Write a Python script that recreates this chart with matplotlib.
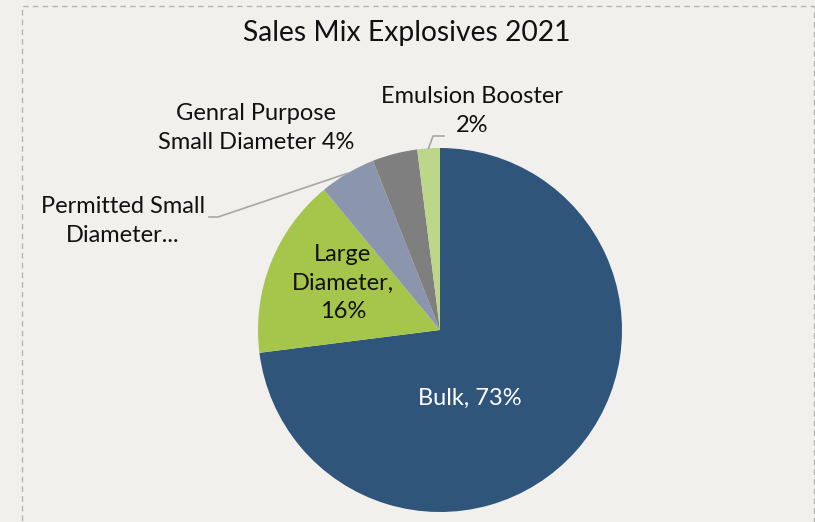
import numpy as np
import matplotlib
matplotlib.use("Agg")
import matplotlib.pyplot as plt
from matplotlib.patches import Rectangle

categories = ["Bulk", "Large Diameter", "Permitted Small Diameter",
              "Genral Purpose Small Diameter", "Emulsion Booster"]
values = [73, 16, 5, 4, 2]
colors = ["#2f557a", "#a5c64b", "#8b96ae", "#7f7f7f", "#bcd68a"]
title = "Sales Mix Explosives 2021"

W, H = 815, 522
fig = plt.figure(figsize=(W / 100, H / 100), dpi=100)
bg = "#f2f0ed"
fig.patch.set_facecolor(bg)
ax = fig.add_axes([0, 0, 1, 1])
ax.set_xlim(0, W)
ax.set_ylim(0, H)
ax.set_aspect("equal")
ax.axis("off")

def Y(y):
    return H - y

FONT = ["Lato", "DejaVu Sans"]

# dashed border
ax.add_patch(Rectangle((22, Y(540)), 792, 534, fill=False, ec="#b5b5b5",
                       lw=1.0, ls=(0, (4, 3)), zorder=0))

cx, cy, R = 440, 330, 182
wedges, _ = ax.pie(values, colors=colors, startangle=90, counterclock=False,
                   center=(cx, Y(cy)), radius=R,
                   wedgeprops=dict(linewidth=0))
ax.set_xlim(0, W)
ax.set_ylim(0, H)

ax.text(407, Y(33), title, ha="center", va="center", fontsize=20.3,
        family=FONT, color="#111111")

fs = 17
ls = 1.45
ax.text(470, Y(398), f"{categories[0]}, {values[0]}%", ha="center", va="center",
        fontsize=fs, family=FONT, color="white")
ax.text(343, Y(283), f"Large\nDiameter,\n{values[1]}%", ha="center", va="center",
        fontsize=fs, family=FONT, color="#111111", linespacing=ls)
ax.text(123, Y(221), "Permitted Small\nDiameter...", ha="center", va="center",
        fontsize=fs, family=FONT, color="#111111", linespacing=ls)
ax.text(256, Y(128), f"Genral Purpose\nSmall Diameter {values[3]}%", ha="center",
        va="center", fontsize=fs, family=FONT, color="#111111", linespacing=ls)
ax.text(472, Y(111), f"Emulsion Booster\n{values[4]}%", ha="center", va="center",
        fontsize=fs, family=FONT, color="#111111", linespacing=ls)

def edge_point(i):
    w = wedges[i]
    a = np.deg2rad((w.theta1 + w.theta2) / 2)
    return cx + R * np.cos(a), cy - R * np.sin(a)

lc = "#a6a6a6"
px, py = edge_point(2)
ax.plot([209, 218, px], [Y(217), Y(217), Y(py)], color=lc, lw=1.2)
ex, ey = edge_point(4)
ax.plot([ex, 433, 444], [Y(ey), Y(136), Y(136)], color=lc, lw=1.2)

fig.savefig("out.png", dpi=100, facecolor=bg)
